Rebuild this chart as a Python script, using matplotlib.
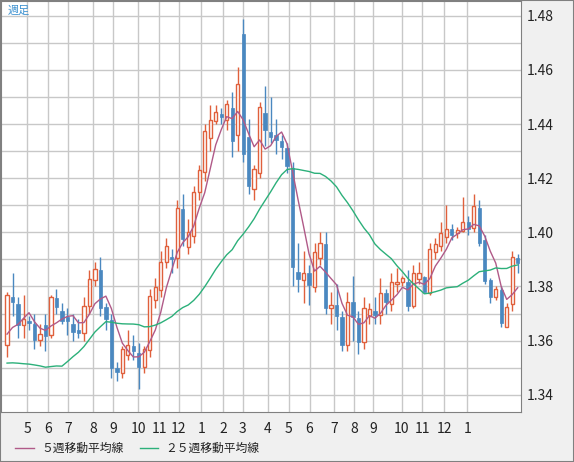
import numpy as np
import pandas as pd
import matplotlib.pyplot as plt
from matplotlib.lines import Line2D

plt.rcParams['font.family'] = ['Noto Sans CJK JP', 'DejaVu Sans']

opens = [1.3584,1.3761,1.3735,1.3658,1.3672,1.3661,1.3602,1.3658,1.3621,1.3757,
         1.3709,1.3687,1.3661,1.3639,1.3628,1.3728,1.3824,1.3861,1.3724,1.3676,
         1.3499,1.3480,1.3547,1.3580,1.3554,1.3502,1.3565,1.3750,1.3787,1.3891,
         1.3909,1.3905,1.4087,1.3946,1.3987,1.4149,1.4223,1.4349,1.4412,1.4438,
         1.4416,1.4460,1.4360,1.4733,1.4353,1.4160,1.4220,1.4441,1.4371,1.4360,
         1.4338,1.4312,1.4238,1.3854,1.3824,1.3850,1.3798,1.3905,1.3957,1.3720,
         1.3732,1.3687,1.3584,1.3743,1.3684,1.3595,1.3691,1.3709,1.3694,1.3776,
         1.3735,1.3809,1.3817,1.3817,1.3728,1.3828,1.3835,1.3776,1.3928,1.3950,
         1.3983,1.4013,1.3998,1.4005,1.4038,1.4016,1.4090,1.3972,1.3824,1.3761,
         1.3787,1.3650,1.3735,1.3905]
closes = [1.3769,1.3743,1.3658,1.3680,1.3665,1.3602,1.3624,1.3617,1.3761,1.3724,
          1.3672,1.3672,1.3632,1.3628,1.3728,1.3828,1.3865,1.3720,1.3680,1.3499,
          1.3484,1.3569,1.3584,1.3561,1.3502,1.3569,1.3765,1.3798,1.3891,1.3950,
          1.3902,1.4090,1.3976,1.4001,1.4149,1.4231,1.4375,1.4416,1.4445,1.4427,
          1.4475,1.4338,1.4549,1.4290,1.4171,1.4234,1.4464,1.4379,1.4353,1.4342,
          1.4316,1.4245,1.3872,1.3828,1.3850,1.3806,1.3928,1.3961,1.3720,1.3732,
          1.3691,1.3584,1.3743,1.3687,1.3595,1.3720,1.3717,1.3694,1.3776,1.3743,
          1.3817,1.3817,1.3831,1.3728,1.3850,1.3850,1.3780,1.3939,1.3957,1.3998,
          1.4013,1.3990,1.4009,1.4038,1.4013,1.4098,1.3961,1.3820,1.3761,1.3791,
          1.3665,1.3724,1.3909,1.3887]
highs = [1.3780,1.3850,1.3760,1.3770,1.3690,1.3700,1.3660,1.3700,1.3770,1.3790,
         1.3740,1.3720,1.3700,1.3680,1.3760,1.3860,1.3890,1.3910,1.3740,1.3700,
         1.3520,1.3580,1.3640,1.3620,1.3590,1.3580,1.3790,1.3830,1.3930,1.3980,
         1.3940,1.4120,1.4140,1.4050,1.4170,1.4250,1.4400,1.4470,1.4470,1.4460,
         1.4490,1.4520,1.4610,1.4790,1.4420,1.4250,1.4480,1.4540,1.4500,1.4420,
         1.4360,1.4330,1.4260,1.3960,1.3930,1.3880,1.3960,1.4000,1.4000,1.3780,
         1.3810,1.3710,1.3780,1.3840,1.3710,1.3760,1.3740,1.3760,1.3830,1.3790,
         1.3850,1.3870,1.3840,1.3860,1.3880,1.3890,1.3840,1.3960,1.3980,1.4040,
         1.4100,1.4030,1.4020,1.4130,1.4060,1.4140,1.4120,1.3990,1.3830,1.3800,
         1.3800,1.3740,1.3930,1.3920]
lows = [1.3540,1.3690,1.3610,1.3610,1.3640,1.3570,1.3580,1.3560,1.3610,1.3700,
        1.3660,1.3620,1.3600,1.3610,1.3600,1.3700,1.3800,1.3690,1.3640,1.3460,
        1.3450,1.3460,1.3530,1.3530,1.3420,1.3480,1.3540,1.3720,1.3760,1.3870,
        1.3850,1.3870,1.3950,1.3920,1.3960,1.4120,1.4190,1.4300,1.4400,1.4400,
        1.4380,1.4280,1.4300,1.4260,1.4140,1.4120,1.4200,1.4320,1.4330,1.4290,
        1.4270,1.4220,1.3800,1.3780,1.3740,1.3730,1.3780,1.3880,1.3700,1.3660,
        1.3640,1.3560,1.3560,1.3600,1.3550,1.3570,1.3660,1.3660,1.3660,1.3700,
        1.3710,1.3780,1.3800,1.3710,1.3720,1.3810,1.3780,1.3770,1.3900,1.3930,
        1.3960,1.3970,1.3980,1.4000,1.3990,1.4000,1.3950,1.3810,1.3740,1.3750,
        1.3650,1.3650,1.3710,1.3850]
# closes before the visible range, only for the moving averages
prior_closes = [1.372,1.369,1.373,1.370,1.368,1.371,1.374,1.370,1.367,1.369,
                1.325,1.318,1.322,1.320,1.316,1.319,1.323,1.321,
                1.355,1.358,1.362,1.360,1.357,1.356]

month_ticks = ['5','6','7','8','9','10','11','12','1','2','3','4','5','6','7','8','9','10','11','12','1']
month_pos = [3.7,7.5,11.1,15.7,19.3,23.9,27.7,31.3,35.4,39.3,42.9,47.5,51.3,55.1,59.5,63.2,66.7,71.9,75.6,79.6,83.8]

up_c = '#e0603c'
dn_c = '#4a88c0'
ma5_c = '#b05a88'
ma25_c = '#2cb07a'

allc = pd.Series(prior_closes + closes)
ma5 = allc.rolling(5).mean().values[len(prior_closes):]
ma25 = allc.rolling(25).mean().values[len(prior_closes):]

fig = plt.figure(figsize=(5.74, 4.62), dpi=100, facecolor='#f0f0f0')
ax = fig.add_axes([1/574, 50/462, 520/574, 411/462])
ax.set_facecolor('white')

ax.set_xlim(-1.1, 93.6)
ax.set_ylim(1.3336, 1.4855)
yt = np.arange(1.34, 1.481, 0.01)
ax.set_yticks(yt)
ax.grid(True, color='#c8c8c8', lw=1)
ax.set_axisbelow(True)
ax.set_xticks(month_pos)
ax.set_xticklabels(month_ticks)
ax.yaxis.tick_right()
ax.set_yticklabels(['%.2f' % v if i % 2 == 0 else '' for i, v in enumerate(yt)])
ax.tick_params(length=0, labelsize=10, colors='#222222', pad=4)
ax.tick_params(axis='x', pad=7)
for s in ax.spines.values():
    s.set_color('#808080')

w = 0.6
for i in range(len(closes)):
    o, c, h, l = opens[i], closes[i], highs[i], lows[i]
    if c >= o:
        ax.vlines(i, l, o, color=up_c, lw=1, zorder=3)
        ax.vlines(i, c, h, color=up_c, lw=1, zorder=3)
        ax.add_patch(plt.Rectangle((i - w/2, o), w, max(c - o, 0.0003), facecolor='white',
                                   edgecolor=up_c, lw=1, zorder=4))
    else:
        ax.vlines(i, l, h, color=dn_c, lw=1, zorder=3)
        ax.add_patch(plt.Rectangle((i - w/2, c), w, max(o - c, 0.0003), facecolor=dn_c,
                                   edgecolor=dn_c, lw=0.5, zorder=4))

x = np.arange(len(closes))
ax.plot(x, ma5, color=ma5_c, lw=1, zorder=5)
ax.plot(x, ma25, color=ma25_c, lw=1, zorder=5)

ax.text(0.012, 0.99, '週足', transform=ax.transAxes, color='#3a90d0', fontsize=8, va='top')

ly = 1 - 448/462
fig.add_artist(Line2D([15/574, 34/574], [ly] * 2, color=ma5_c, lw=1))
fig.text(41/574, ly, '５週移動平均線', fontsize=8.5, va='center', color='#222222')
fig.add_artist(Line2D([140/574, 158/574], [ly] * 2, color=ma25_c, lw=1))
fig.text(165/574, ly, '２５週移動平均線', fontsize=8.5, va='center', color='#222222')
fig.add_artist(plt.Rectangle((0, 0), 1, 1, transform=fig.transFigure, fill=False,
                             edgecolor='#808080', lw=1.5))

fig.savefig('out.png', dpi=100, facecolor=fig.get_facecolor())
